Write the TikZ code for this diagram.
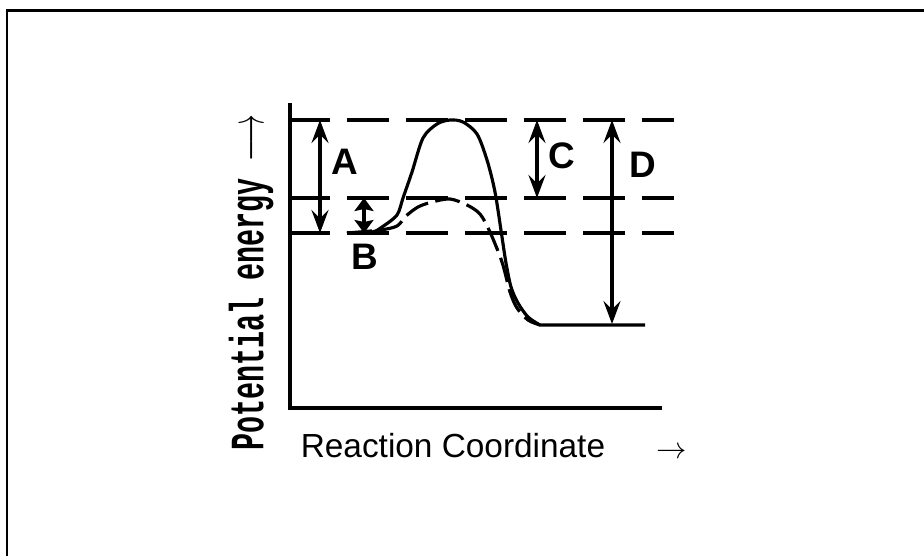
\documentclass[tikz,border=0pt]{standalone}
\usepackage{fontspec}
\setmainfont{Liberation Sans}
\setmonofont{Liberation Mono}
\usetikzlibrary{arrows.meta}
\tikzset{
  level/.style={line width=2.2pt, dash pattern=on 0.84cm off 0.34cm},
  curve/.style={line width=1.8pt, line join=round},
  dimarrow/.style={line width=1.8pt,
    {Stealth[length=0.46cm,width=0.34cm,inset=0.17cm]}-{Stealth[length=0.46cm,width=0.34cm,inset=0.17cm]}},
  shortarrow/.style={line width=1.8pt,
    {Stealth[length=0.26cm,width=0.38cm,inset=0.04cm]}-{Stealth[length=0.26cm,width=0.38cm,inset=0.04cm]}},
  letter/.style={font=\fontsize{21}{24}\selectfont\bfseries, inner sep=0pt}
}
\begin{document}
\begin{tikzpicture}[x=0.02cm, y=-0.02cm]
  \useasboundingbox (0,0) rectangle (924,556);
  \draw[line width=1.7pt] (7,556) -- (7,10) -- (924,10);
  % axes
  \coordinate (ytop) at (290,103);
  \coordinate (origin) at (290,408);
  \coordinate (xend) at (662,408);
  \draw[line width=1.8pt] (ytop) -- (origin) -- (xend);
  % energy levels
  \coordinate (ts) at (288,120);
  \coordinate (cat) at (288,198);
  \coordinate (react) at (288,233);
  \draw[level] (ts) -- (674,120);
  \draw[level] (cat) -- (674,198);
  \draw[level] (react) -- (674,233);
  % reaction profiles
  \draw[curve] plot[smooth, tension=0.5] coordinates {(347,233) (372,232) (382,227) (397,215) (403,198) (412,172) (423,138) (437,124) (450,120) (463,122) (477,134) (487,160) (495,192) (502,237) (506,263) (511,287) (518,303) (528,317) (540,325)} -- (645,325);
  \draw[curve, dash pattern=on 0.5cm off 0.15cm] plot[smooth, tension=0.5] coordinates {(347,233) (380,230) (397,226) (406,216) (418,207) (432,202) (450,199) (467,205) (480,214) (490,232) (502,262) (510,292) (517,308) (528,320) (540,325)};
  % dimensions
  \coordinate (a1) at (320,120);
  \coordinate (a2) at (320,233);
  \coordinate (b1) at (364,198);
  \coordinate (b2) at (364,233);
  \coordinate (c1) at (537,120);
  \coordinate (c2) at (537,198);
  \coordinate (d1) at (612,120);
  \coordinate (d2) at (612,324);
  \draw[dimarrow] (a1) -- (a2);
  \draw[shortarrow] (b1) -- (b2);
  \draw[dimarrow] (c1) -- (c2);
  \draw[dimarrow] (d1) -- (d2);
  \node[letter] (labA) at (345,162) {A};
  \node[letter] (labB) at (365,257) {B};
  \node[letter] (labC) at (562,156) {C};
  \node[letter] (labD) at (643,165) {D};
  % axis titles
  \node[inner sep=0pt] (xlab) at (453,446) {\fontsize{19}{22}\selectfont Reaction Coordinate};
  \node[inner sep=0pt] (xarr) at (672,453) {\fontsize{18}{22}\selectfont$\rightarrow$};
  \node[rotate=90, inner sep=0pt] (ylab) at (251,283) {\scalebox{0.95}[1.6]{\fontsize{17}{20}\selectfont\ttfamily\bfseries Potential energy $\longrightarrow$}};
\end{tikzpicture}
\end{document}
